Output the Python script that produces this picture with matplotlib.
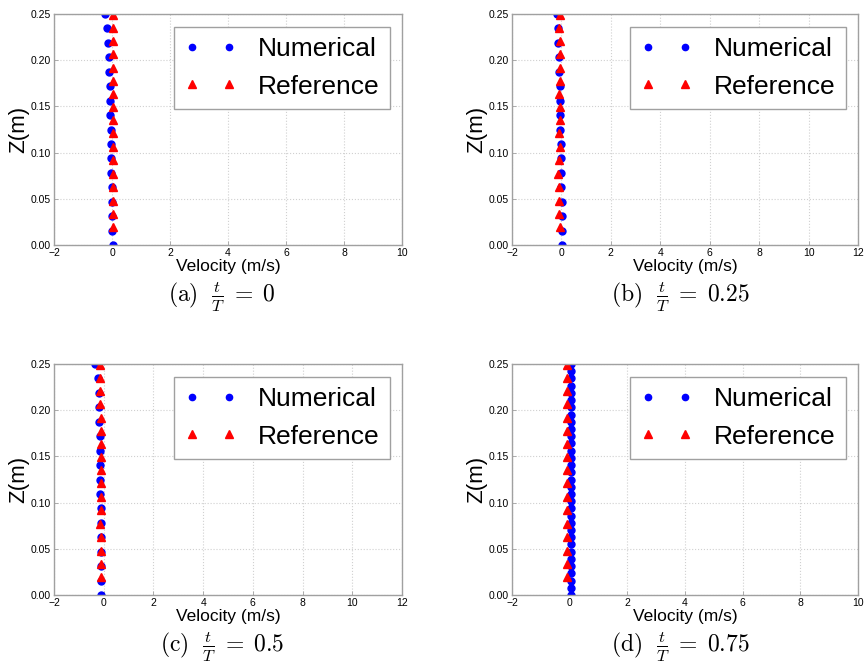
import matplotlib
matplotlib.use('Agg')
import matplotlib.pyplot as plt
from matplotlib.ticker import FormatStrFormatter, MultipleLocator

plt.rcParams['font.family'] = ['Liberation Sans', 'DejaVu Sans']
plt.rcParams['mathtext.fontset'] = 'cm'

# heights of the sampled points (m)
z_num = [0.0, 0.0156, 0.0313, 0.0469, 0.0625, 0.0781, 0.0938, 0.1094, 0.125,
         0.1406, 0.1563, 0.1719, 0.1875, 0.2031, 0.2188, 0.2344, 0.25]
z_num_fine = [0.0, 0.0078, 0.0156, 0.0234, 0.0313, 0.0391, 0.0469, 0.0547,
              0.0625, 0.0703, 0.0781, 0.0859, 0.0938, 0.1016, 0.1094, 0.1172,
              0.125, 0.1328, 0.1406, 0.1484, 0.1563, 0.1641, 0.1719, 0.1797,
              0.1875, 0.1953, 0.2031, 0.2109, 0.2188, 0.2266, 0.2344, 0.2422,
              0.25]
z_ref = [0.0195, 0.0335, 0.048, 0.0625, 0.077, 0.092, 0.1065, 0.121, 0.135,
         0.149, 0.1635, 0.178, 0.192, 0.2065, 0.221, 0.235, 0.249]

# velocities (m/s), bottom to top
u_num_a = [0.02, 0.01, 0.01, 0.0, -0.01, -0.02, -0.02, -0.03, -0.05, -0.06,
           -0.06, -0.07, -0.09, -0.12, -0.14, -0.16, -0.24]
u_ref_a = [0.02, 0.02, 0.02, 0.02, 0.02, 0.02, 0.02, 0.02, 0.02, 0.02, 0.03,
           0.03, 0.03, 0.03, 0.04, 0.04, 0.05]
u_num_b = [0.03, 0.03, 0.02, 0.01, 0.0, -0.01, -0.02, -0.03, -0.04, -0.05,
           -0.06, -0.07, -0.08, -0.1, -0.12, -0.14, -0.18]
u_ref_b = [-0.07, -0.08, -0.11, -0.08, -0.14, -0.09, -0.04, -0.11, -0.07,
           -0.05, -0.09, -0.05, -0.05, -0.07, -0.07, -0.1, -0.07]
u_num_c = [-0.1, -0.1, -0.1, -0.1, -0.1, -0.11, -0.12, -0.14, -0.16, -0.16,
           -0.16, -0.16, -0.18, -0.18, -0.2, -0.23, -0.34]
u_ref_c = [-0.1, -0.11, -0.1, -0.11, -0.14, -0.1, -0.1, -0.11, -0.1, -0.1,
           -0.11, -0.1, -0.1, -0.14, -0.14, -0.14, -0.14]
u_num_d = [0.03, 0.03, 0.04, 0.03, 0.03, 0.04, 0.03, 0.03, 0.04, 0.03, 0.03,
           0.04, 0.03, 0.03, 0.04, 0.03, 0.03, 0.04, 0.03, 0.03, 0.04, 0.03,
           0.03, 0.04, 0.03, 0.03, 0.04, 0.03, 0.03, 0.04, 0.03, 0.03, 0.04]
u_ref_d = [-0.09, -0.09, -0.1, -0.09, -0.09, -0.1, -0.09, -0.09, -0.1,
           -0.09, -0.09, -0.1, -0.09, -0.09, -0.1, -0.09, -0.09]

panels = [
    # (z_num, u_num, u_ref, xmax, caption)
    (z_num, u_num_a, u_ref_a, 10, r'$\mathrm{(a)}\ \ \frac{t}{T}\;=\;0$'),
    (z_num, u_num_b, u_ref_b, 12, r'$\mathrm{(b)}\ \ \frac{t}{T}\;=\;0.25$'),
    (z_num, u_num_c, u_ref_c, 12, r'$\mathrm{(c)}\ \ \frac{t}{T}\;=\;0.5$'),
    (z_num_fine, u_num_d, u_ref_d, 10, r'$\mathrm{(d)}\ \ \frac{t}{T}\;=\;0.75$'),
]

W, H = 867, 668
fig = plt.figure(figsize=(W / 100, H / 100), dpi=100)

# axes boxes in pixels: left, top, right, bottom
boxes = [(54, 14, 402, 245), (512, 14, 858, 245),
         (54, 364, 402, 595), (512, 364, 858, 595)]
caption_xy = [(222, 297), (680, 297), (222, 647), (680, 647)]

for (zn, un, ur, xmax, cap), (l, t, r, b), (cx, cy) in zip(panels, boxes, caption_xy):
    ax = fig.add_axes([l / W, 1 - b / H, (r - l) / W, (b - t) / H])
    ax.plot(un, zn, 'o', color='blue', markeredgecolor='blue', markersize=5,
            label='Numerical')
    ax.plot(ur, z_ref, '^', color='red', markeredgecolor='red', markersize=6,
            label='Reference')
    ax.set_xlim(-2, xmax)
    ax.set_ylim(0, 0.25)
    ax.xaxis.set_major_locator(MultipleLocator(2))
    ax.yaxis.set_major_locator(MultipleLocator(0.05))
    ax.yaxis.set_major_formatter(FormatStrFormatter('%.2f'))
    ax.grid(True, linestyle=':', color='#d0d0d0', linewidth=0.8)
    ax.set_axisbelow(True)
    for sp in ax.spines.values():
        sp.set_color('#a0a0a0')
        sp.set_linewidth(1.0)
    ax.tick_params(direction='in', length=3, width=0.6, color='#a0a0a0',
                   labelsize=7.5, pad=2)
    ax.set_xlabel('Velocity (m/s)', fontsize=12.5, labelpad=1)
    ax.set_ylabel('Z(m)', fontsize=16, labelpad=1)
    leg = ax.legend(loc='upper right', bbox_to_anchor=(0.966, 0.944),
                    borderaxespad=0, numpoints=2, handlelength=2.0,
                    fontsize=19, fancybox=False, framealpha=1, markerscale=0.9)
    leg.get_frame().set_edgecolor('#a0a0a0')
    leg.get_frame().set_linewidth(1.0)
    fig.text(cx / W, 1 - cy / H, cap, ha='center', va='center', fontsize=17)

fig.savefig('out.png', dpi=100)
